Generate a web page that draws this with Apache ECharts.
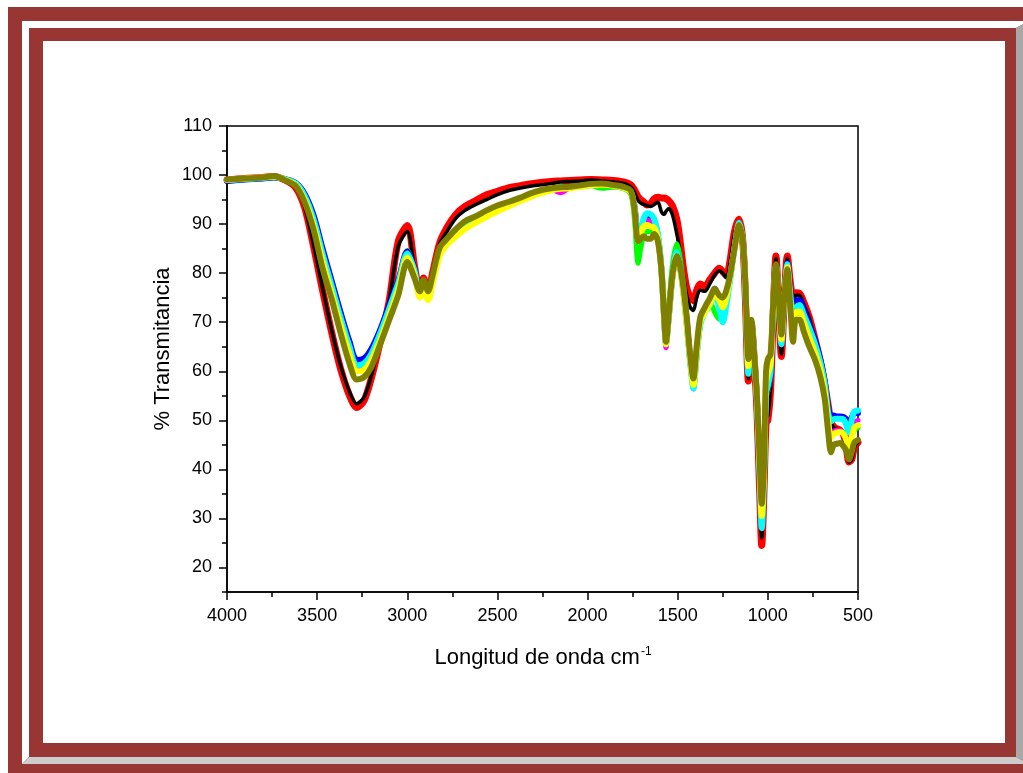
<!DOCTYPE html>
<html><head><meta charset="utf-8">
<script src="https://cdn.jsdelivr.net/npm/echarts@6/dist/echarts.min.js"></script>
<style>html,body{margin:0;padding:0;background:#fff}#c{width:1023px;height:773px}</style>
</head><body><div id="c"></div>
<script>
// wavenumber (cm^-1)
const wavenumbers = [4000,3900,3800,3740,3680,3620,3570,3520,3470,3420,
 3370,3320,3280,3240,3200,3150,3100,3050,3000,2960,
 2930,2910,2885,2860,2820,2780,2730,2680,2620,2560,
 2500,2440,2380,2320,2260,2200,2150,2100,2040,1980,
 1920,1860,1800,1760,1740,1720,1705,1690,1670,1650,
 1630,1610,1590,1575,1565,1550,1530,1505,1490,1470,
 1450,1430,1413,1395,1375,1350,1320,1295,1270,1250,
 1230,1210,1185,1160,1140,1125,1108,1092,1075,1060,
 1045,1034,1022,1010,1000,985,970,955,940,925,
 910,892,875,860,845,825,800,770,740,710,
 685,665,650,635,620,600,580,565,550,535,
 520,500];

const redT = [99.0,99.3,99.5,99.7,99.0,97.5,93.5,85.5,76.5,68.0,
 60.5,55.0,52.6,54.0,58.5,66.0,74.5,86.5,89.7,81.5,
 76.0,79.0,75.9,80.0,86.2,89.3,92.0,93.6,94.8,96.0,
 96.7,97.4,97.8,98.2,98.5,98.7,98.8,98.9,99.0,99.1,
 99.0,98.9,98.6,98.0,97.0,95.6,95.0,94.6,93.9,94.2,
 95.2,95.5,95.3,95.3,95.2,94.8,93.8,91.0,87.5,81.5,
 77.0,75.0,74.4,76.5,77.8,77.3,78.8,80.0,81.0,80.3,
 79.5,82.5,88.5,91.0,87.0,75.0,58.0,69.8,62.0,51.5,
 35.0,24.5,35.0,49.5,50.0,56.0,72.0,83.5,73.0,63.0,
 73.5,83.5,78.0,75.2,76.0,75.9,74.0,71.0,66.8,62.3,
 57.5,53.0,49.8,48.7,48.3,48.0,47.0,44.5,41.5,42.0,
 44.5,45.5];

const blackT = [99.0,99.3,99.5,99.7,99.0,97.5,93.6,85.8,77.0,68.5,
 61.2,55.8,53.4,54.7,59.0,66.3,74.5,85.5,88.5,80.8,
 75.7,78.5,75.6,80.3,86.0,88.5,91.2,92.8,94.0,95.0,
 96.0,96.8,97.3,97.7,98.0,98.3,98.6,98.7,98.8,99.0,
 98.8,98.6,98.3,97.6,96.5,94.8,94.3,94.0,93.8,93.6,
 94.0,94.5,92.5,92.0,92.6,93.2,92.0,88.0,85.0,80.0,
 75.5,73.0,72.4,75.0,76.5,76.3,78.0,79.6,80.5,80.0,
 79.0,82.0,88.0,90.5,86.5,74.5,58.5,69.8,62.0,52.0,
 36.0,26.0,36.0,50.5,51.0,56.5,72.0,83.0,73.0,63.5,
 73.3,83.0,77.5,74.5,75.5,75.5,73.5,70.8,66.5,62.0,
 57.2,52.5,49.5,48.5,48.2,47.9,46.8,44.3,41.5,42.0,
 44.5,45.5];

const greenT = [99.0,99.2,99.4,99.6,99.2,98.2,95.6,90.5,83.5,77.0,
 70.5,64.6,61.0,61.4,63.4,67.6,72.8,78.3,84.6,80.8,
 75.8,77.8,75.5,79.0,84.5,86.8,88.4,90.0,91.2,92.4,
 93.4,94.4,95.2,96.1,96.7,97.1,97.3,97.4,97.6,97.8,
 97.3,97.5,97.2,96.0,91.0,82.0,85.0,87.5,88.5,88.5,
 88.8,87.0,80.5,71.5,66.0,72.5,81.5,86.0,84.0,78.5,
 71.5,63.0,57.8,64.0,70.5,72.8,74.0,72.0,70.6,72.5,
 74.0,79.0,85.0,90.0,86.8,76.8,60.5,70.2,62.5,53.5,
 39.5,30.5,39.0,54.5,56.0,59.0,73.0,81.0,74.5,66.0,
 74.2,81.0,74.5,70.0,71.5,72.0,70.0,67.5,64.5,61.0,
 56.0,50.5,46.8,47.5,47.7,47.8,47.5,46.5,45.0,46.5,
 48.0,48.5];

const blueT = [98.8,99.1,99.3,99.5,99.2,98.4,96.2,91.8,85.0,78.5,
 72.0,66.0,62.3,62.6,64.5,68.5,73.5,78.5,84.4,80.8,
 75.5,77.3,74.8,78.5,84.3,86.6,88.2,89.8,91.0,92.2,
 93.2,94.2,95.0,95.9,96.6,97.1,97.5,97.6,97.8,98.1,
 98.2,97.9,97.5,96.6,93.6,88.0,88.8,90.5,91.2,91.0,
 90.5,87.5,80.5,71.0,65.8,71.0,79.0,84.0,82.0,76.8,
 70.0,62.0,57.5,63.5,70.0,72.5,74.0,76.8,74.0,71.5,
 74.5,79.0,85.5,90.0,86.8,77.0,60.0,70.0,62.5,53.5,
 38.5,29.0,38.0,55.0,56.5,59.5,73.0,81.8,74.0,65.5,
 74.0,82.0,76.5,73.5,74.5,74.5,72.5,69.5,66.5,62.5,
 58.0,52.5,50.8,51.0,50.8,50.8,50.7,50.2,48.5,50.5,
 51.5,51.5];

const magentaT = [99.0,99.2,99.4,99.6,99.1,98.0,95.2,90.2,83.0,76.5,
 70.0,64.0,60.5,60.8,62.8,67.0,72.0,77.3,83.6,80.0,
 75.2,77.0,74.8,78.2,84.0,86.2,87.8,89.3,90.6,91.8,
 92.9,93.9,94.8,95.7,96.5,97.0,96.4,97.4,97.7,98.0,
 98.0,97.8,97.4,96.5,93.2,87.0,88.0,90.0,90.8,90.6,
 90.0,87.5,80.5,70.5,64.8,70.8,79.0,83.8,81.8,76.3,
 69.3,61.5,56.4,63.0,69.8,72.2,73.8,76.2,74.0,72.0,
 74.5,78.8,85.0,90.0,86.8,77.0,60.5,70.0,62.5,53.8,
 39.0,29.5,38.5,56.5,58.0,60.5,73.2,81.5,74.2,66.0,
 74.0,81.5,74.8,70.5,72.5,73.0,70.8,68.0,65.0,61.3,
 56.8,50.5,47.0,47.8,48.0,48.0,47.0,46.8,45.5,47.5,
 49.5,50.0];

const cyanT = [99.0,99.2,99.4,99.6,99.2,98.3,95.8,91.0,84.0,77.5,
 71.0,65.0,61.2,61.6,63.5,67.8,72.8,78.0,84.0,80.5,
 75.5,77.5,75.3,78.8,84.3,86.5,88.0,89.6,90.8,92.0,
 93.0,94.0,94.9,95.8,96.5,97.0,97.6,97.5,97.7,98.0,
 98.1,97.8,97.4,96.6,93.5,87.5,88.5,91.0,92.2,92.0,
 91.0,88.0,81.0,71.0,65.5,71.0,79.5,84.3,82.0,76.5,
 69.5,61.5,56.5,63.0,69.5,72.0,73.5,76.5,73.0,70.0,
 73.5,78.5,85.0,90.3,87.0,76.5,59.5,70.0,62.5,53.0,
 38.0,28.0,37.0,55.5,57.0,60.0,73.0,81.5,74.0,65.5,
 74.0,81.8,75.5,72.0,73.0,73.5,71.5,68.8,65.8,62.0,
 57.5,51.5,49.8,50.2,50.3,50.3,50.2,49.0,47.5,50.0,
 51.8,52.0];

const yellowT = [99.0,99.3,99.5,99.7,99.1,98.0,95.0,89.8,82.5,76.0,
 69.5,63.5,60.0,60.3,62.3,66.5,71.5,76.8,83.2,79.6,
 75.0,76.6,74.5,77.8,83.5,85.8,87.5,89.0,90.3,91.5,
 92.6,93.6,94.6,95.5,96.3,96.9,97.2,97.3,97.6,97.9,
 98.0,97.8,97.4,96.5,93.0,86.5,87.8,89.5,89.8,89.5,
 89.3,87.0,80.5,71.0,65.5,71.0,79.0,83.5,81.8,76.5,
 69.5,62.0,57.2,63.5,70.0,72.0,73.8,76.0,74.5,73.0,
 75.0,79.0,85.0,89.8,86.8,77.5,61.0,70.3,62.8,54.0,
 40.0,30.5,39.0,57.5,59.5,61.5,73.5,81.5,74.5,66.5,
 74.2,81.2,74.0,69.0,72.0,72.2,70.0,67.0,64.0,60.5,
 56.0,49.5,46.5,47.2,47.5,47.6,47.2,46.0,44.5,46.5,
 48.5,49.0];

const oliveT = [99.1,99.3,99.5,99.8,99.0,97.8,94.5,88.9,81.0,74.8,
 67.8,61.5,58.3,58.8,60.8,65.5,70.5,75.5,82.3,79.0,
 76.3,78.6,76.3,79.5,85.2,87.0,89.0,90.6,91.6,92.8,
 93.8,94.5,95.3,96.2,96.9,97.3,97.5,97.6,97.9,98.2,
 98.3,98.0,97.6,96.8,93.0,86.5,87.0,87.5,87.0,87.0,
 88.0,86.5,80.5,71.0,66.0,71.5,79.5,83.5,82.0,77.5,
 71.0,63.0,58.5,65.0,71.0,73.0,75.0,76.8,75.5,75.0,
 76.5,79.5,85.0,89.8,87.0,78.0,62.5,70.5,63.0,54.5,
 41.5,33.0,40.5,60.0,62.5,63.5,74.0,81.8,75.0,67.5,
 74.5,80.8,73.0,66.0,70.5,70.5,68.0,65.0,62.5,59.0,
 54.5,47.5,43.5,45.0,45.2,45.4,44.7,43.8,42.0,43.5,
 45.5,46.0];

const yMajorTicks = [20,30,40,50,60,70,80,90,100,110];
const yMinorTicks = [15,25,35,45,55,65,75,85,95,105];

const FONT = '"Liberation Sans", Arial, sans-serif';
const FRAME = '#983634';

function pairs(vals){ return wavenumbers.map((w,i)=>[w, vals[i]]); }
function mk(name, vals, color, width){
  return {name, type:'line', data:pairs(vals), showSymbol:false, smooth:0.3,
    xAxisIndex:0, yAxisIndex:0, animation:false,
    lineStyle:{color, width, cap:'round', join:'round'}};
}

const chart = echarts.init(document.getElementById('c'), null, {renderer:'canvas'});
chart.setOption({
  backgroundColor:'#fff',
  animation:false,
  grid:{left:227, right:165, top:126, bottom:181, show:true, borderColor:'#000', borderWidth:1.5, backgroundColor:'transparent'},
  xAxis:{type:'value', min:500, max:4000, interval:500, inverse:true,
    axisLine:{show:true, onZero:false, lineStyle:{color:'#000', width:1.5}},
    axisTick:{show:true, inside:false, length:8, lineStyle:{color:'#000', width:1.5}},
    minorTick:{show:true, splitNumber:2, length:5, lineStyle:{color:'#000', width:1.5}},
    axisLabel:{margin:15, fontSize:18, fontFamily:FONT, color:'#000', formatter:(v)=>String(v)},
    splitLine:{show:false}, minorSplitLine:{show:false}},
  yAxis:[
    {type:'value', min:15, max:110, position:'left',
     axisLine:{show:true, onZero:false, lineStyle:{color:'#000', width:1.5}},
     axisTick:{show:true, inside:false, length:8, customValues:yMajorTicks, lineStyle:{color:'#000', width:1.5}},
     axisLabel:{customValues:yMajorTicks, margin:15, fontSize:18, fontFamily:FONT, color:'#000', formatter:(v)=>String(v)},
     splitLine:{show:false}},
    {type:'value', min:15, max:110, position:'left',
     axisLine:{show:false},
     axisTick:{show:true, inside:false, length:5, customValues:yMinorTicks, lineStyle:{color:'#000', width:1.5}},
     axisLabel:{show:false}, splitLine:{show:false}}
  ],
  series:[
    mk('red', redT, '#ff0000', 7),
    mk('black', blackT, '#000000', 3.5),
    mk('green', greenT, '#00ff00', 5),
    mk('blue', blueT, '#0000ff', 6),
    mk('magenta', magentaT, '#ff00ff', 5),
    mk('cyan', cyanT, '#00ffff', 6),
    mk('yellow', yellowT, '#ffff00', 6),
    mk('olive', oliveT, '#808000', 6)
  ],
  graphic:[
    {type:'rect', z:-100, shape:{x:8, y:7, width:1100, height:1000}, style:{fill:FRAME}},
    {type:'polygon', z:-99, shape:{points:[[22,21],[1029,21],[1016,28],[29,28],[29,757],[22,764]]}, style:{fill:'#ffffff'}},
    {type:'polygon', z:-99, shape:{points:[[1016,28],[1029,21],[1029,764],[1016,757]]}, style:{fill:'#a8a8a8'}},
    {type:'polygon', z:-99, shape:{points:[[22,764],[29,757],[1016,757],[1029,764]]}, style:{fill:'#cccccc'}},
    {type:'rect', z:-98, shape:{x:29, y:28, width:987, height:729}, style:{fill:FRAME}},
    {type:'rect', z:-97, shape:{x:43, y:41, width:962, height:702}, style:{fill:'#ffffff'}},
    {type:'text', z:100, x:163, y:349, rotation:Math.PI/2,
     style:{text:'% Transmitancia', x:0, y:0, font:'22px '+FONT, fill:'#000',
       align:'center', verticalAlign:'middle', textAlign:'center', textVerticalAlign:'middle'}},
    {type:'text', z:100, x:543, y:658,
     style:{text:'{a|Longitud de onda cm}{s|-1}', x:0, y:0, fill:'#000',
       align:'center', verticalAlign:'middle', textAlign:'center', textVerticalAlign:'middle',
       rich:{a:{fontSize:22, fontFamily:FONT, color:'#000', lineHeight:25},
             s:{fontSize:12, fontFamily:FONT, color:'#000', verticalAlign:'top', lineHeight:25, padding:[0,0,0,1]}}}}
  ]
});
</script>
</body></html>
